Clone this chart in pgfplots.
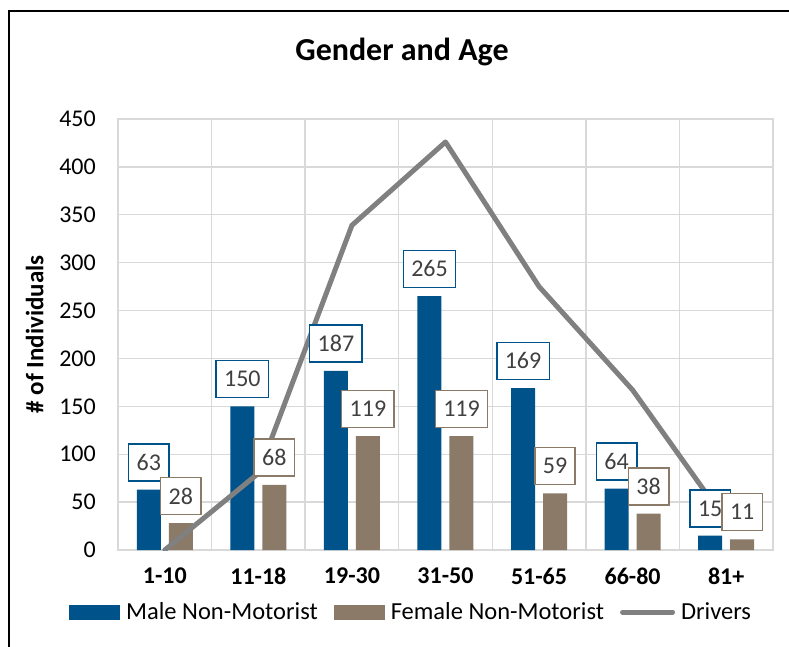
\documentclass[border=0pt]{standalone}
\usepackage{fontspec}
\setmainfont{Carlito}
\usepackage{pgfplots}
\pgfplotsset{compat=1.18}
\definecolor{maleblue}{HTML}{00528A}
\definecolor{femalebrown}{HTML}{8B7A68}
\definecolor{drivergray}{HTML}{808080}
\definecolor{gridgray}{HTML}{D9D9D9}
\definecolor{labelgray}{HTML}{404040}
\begin{document}
\begin{tikzpicture}
\useasboundingbox (-118pt,-96pt) rectangle (671pt,550pt);
\draw[line width=1.5pt, black] (-109pt,-100pt) -- (-109pt,539pt) -- (675pt,539pt);
\begin{axis}[
  at={(0pt,0pt)}, anchor=south west,
  scale only axis, width=655pt, height=431pt,
  xmin=-0.5, xmax=6.5, ymin=0, ymax=450,
  ytick={0,50,...,450},
  xtick={0,...,6},
  xticklabels={1-10,11-18,19-30,31-50,51-65,66-80,81+},
  minor xtick={-0.5,0.5,...,6.5},
  xminorgrids=true, xmajorgrids=false, ymajorgrids=true,
  major grid style={draw=gridgray, line width=1.3pt},
  minor grid style={draw=gridgray, line width=1.3pt},
  axis line style={draw=gridgray, line width=1.3pt},
  major tick length=0pt, minor tick length=0pt,
  /pgf/number format/assume math mode=true,
  tick label style={font=\fontsize{24}{28}\selectfont, text=black},
  xticklabel style={font=\bfseries\fontsize{24}{28}\selectfont, inner sep=0pt, yshift=-18pt},
  yticklabel style={inner sep=0pt, xshift=-22pt},
  ylabel={\# of Individuals},
  ylabel style={font=\bfseries\fontsize{25}{30}\selectfont, at={(axis description cs:-0.127,0.5)}, anchor=center, rotate=0},
  legend columns=3,
  legend style={at={(-0.0748,-0.1439)}, anchor=west, draw=none, fill=none, inner sep=0pt,
    font=\fontsize{24.5}{28}\selectfont,
    nodes={inner xsep=6pt, inner ysep=0pt},
    /tikz/every even column/.append style={column sep=10pt}},
]
\addplot[ybar, bar width=24pt, bar shift=-16pt, fill=maleblue, draw=none,
  legend image code/.code={\fill[maleblue] (0pt,-7.5pt) rectangle (51pt,7.5pt);}]
  coordinates {(0,63) (1,150) (2,187) (3,265) (4,169) (5,64) (6,15)};
\addlegendentry{Male Non-Motorist}
\addplot[ybar, bar width=24pt, bar shift=16pt, fill=femalebrown, draw=none,
  legend image code/.code={\fill[femalebrown] (0pt,-7.5pt) rectangle (51pt,7.5pt);}]
  coordinates {(0,28) (1,68) (2,119) (3,119) (4,59) (5,38) (6,11)};
\addlegendentry{Female Non-Motorist}
\addplot[drivergray, line width=5pt, line join=round, line cap=round, mark=none,
  legend image code/.code={\draw[drivergray, line width=5pt, line cap=round] (2.5pt,0pt) -- (52.5pt,0pt);}]
  coordinates {(0,0) (1,80) (2,339) (3,426) (4,275) (5,167) (6,30)};
\addlegendentry{Drivers}
\addplot[ybar, bar width=24pt, bar shift=-16pt, draw=none, fill=none, forget plot,
  nodes near coords,
  nodes near coords style={draw=maleblue, fill=white, line width=1.5pt, text=labelgray,
    font=\fontsize{24}{28}\selectfont, anchor=south, xshift=-16pt, yshift=8pt, inner xsep=8pt, inner ysep=0pt, minimum height=37pt}]
  coordinates {(0,63) (1,150) (2,187) (3,265) (4,169) (5,64) (6,15)};
\addplot[ybar, bar width=24pt, bar shift=16pt, draw=none, fill=none, forget plot,
  nodes near coords,
  nodes near coords style={draw=femalebrown, fill=white, line width=1.5pt, text=labelgray,
    font=\fontsize{24}{28}\selectfont, anchor=south, xshift=16pt, yshift=8pt, inner xsep=8pt, inner ysep=0pt, minimum height=37pt}]
  coordinates {(0,28) (1,68) (2,119) (3,119) (4,59) (5,38) (6,11)};
\end{axis}
\node[font=\bfseries\fontsize{32}{38}\selectfont] at (284pt,498pt) {Gender and Age};
\end{tikzpicture}
\end{document}
